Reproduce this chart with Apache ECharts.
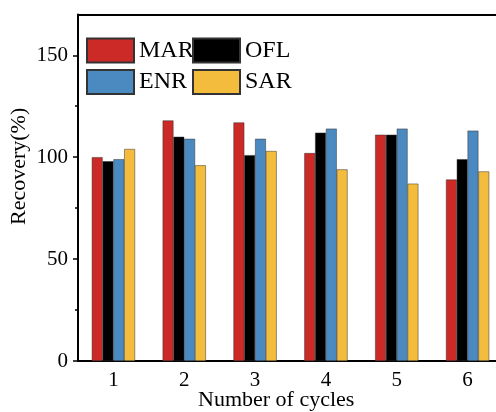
<!DOCTYPE html>
<html>
<head>
<meta charset="utf-8">
<script src="https://cdn.jsdelivr.net/npm/echarts@6/dist/echarts.min.js"></script>
<style>html,body{margin:0;padding:0;background:#fff;overflow:hidden;}#c{width:496px;height:412px;}</style>
</head>
<body>
<div id="c"></div>
<script>
const categories = ['1', '2', '3', '4', '5', '6'];
const seriesNames = ['MAR', 'OFL', 'ENR', 'SAR'];
const MAR = [100, 118, 117, 102, 111, 89];
const OFL = [98, 110, 101, 112, 111, 99];
const ENR = [99, 109, 109, 114, 114, 113];
const SAR = [104, 96, 103, 94, 87, 93];
const yTicks = [0, 50, 100, 150];
const yTop = 170;
const colors = ['#cb2a27', '#000000', '#4a8ac0', '#f4bc3c'];
const values = [MAR, OFL, ENR, SAR];

const font = 'Liberation Serif';
const chart = echarts.init(document.getElementById('c'));
const series = seriesNames.map((n, i) => ({
  name: n, type: 'bar', data: values[i], barWidth: 10.8, barGap: '0%',
  itemStyle: { color: colors[i], borderColor: '#333', borderWidth: 0.5 }
}));
series[0].markLine = {
  silent: true, symbol: ['none', 'none'], label: { show: false },
  lineStyle: { color: '#000', width: 2, type: 'solid' },
  data: [{ yAxis: yTop }]
};
chart.setOption({
  animation: false,
  backgroundColor: '#fff',
  grid: { left: 78, top: 14.5, width: 425, height: 346.5, outerBoundsMode: 'none', containLabel: false },
  legend: [
    { data: ['MAR', 'ENR'], orient: 'vertical', left: 86, top: 37.5, padding: 0,
      itemWidth: 47, itemHeight: 24, itemGap: 5.5, icon: 'rect',
      textStyle: { fontFamily: font, fontSize: 24, color: '#000' } },
    { data: ['OFL', 'SAR'], orient: 'vertical', left: 192, top: 37.5, padding: 0,
      itemWidth: 47, itemHeight: 24, itemGap: 5.5, icon: 'rect',
      textStyle: { fontFamily: font, fontSize: 24, color: '#000' } }
  ],
  xAxis: [
    { type: 'category', data: categories, position: 'bottom',
      axisLine: { lineStyle: { color: '#000', width: 2 } },
      axisTick: { alignWithLabel: true, length: 5, lineStyle: { color: '#000', width: 1.5 } },
      axisLabel: { fontFamily: font, fontSize: 21, color: '#000', margin: 9 } }
  ],
  yAxis: [
    { type: 'value', min: 0, max: yTop, interval: 50, position: 'left',
      splitLine: { show: false },
      axisLine: { show: true, lineStyle: { color: '#000', width: 2 } },
      axisTick: { show: true, length: 5, customValues: yTicks, lineStyle: { color: '#000', width: 1.5 } },
      minorTick: { show: true, splitNumber: 2, length: 3, lineStyle: { color: '#000', width: 1.5 } },
      axisLabel: { customValues: yTicks, fontFamily: font, fontSize: 21, color: '#000', margin: 10 } }
  ],
  graphic: [
    { type: 'rect', z: 100, silent: true, shape: { x: 491, y: 16, width: 6, height: 343.5 },
      style: { fill: '#fff' } },
    { type: 'text', style: { text: 'Number of cycles', font: '22px "Liberation Serif"', fill: '#000' },
      left: 198, top: 389 },
    { type: 'text', rotation: Math.PI / 2, x: 8, y: 225,
      style: { text: 'Recovery(%)', font: '22px "Liberation Serif"', fill: '#000', textVerticalAlign: 'top' } }
  ],
  series: series
});
</script>
</body>
</html>
